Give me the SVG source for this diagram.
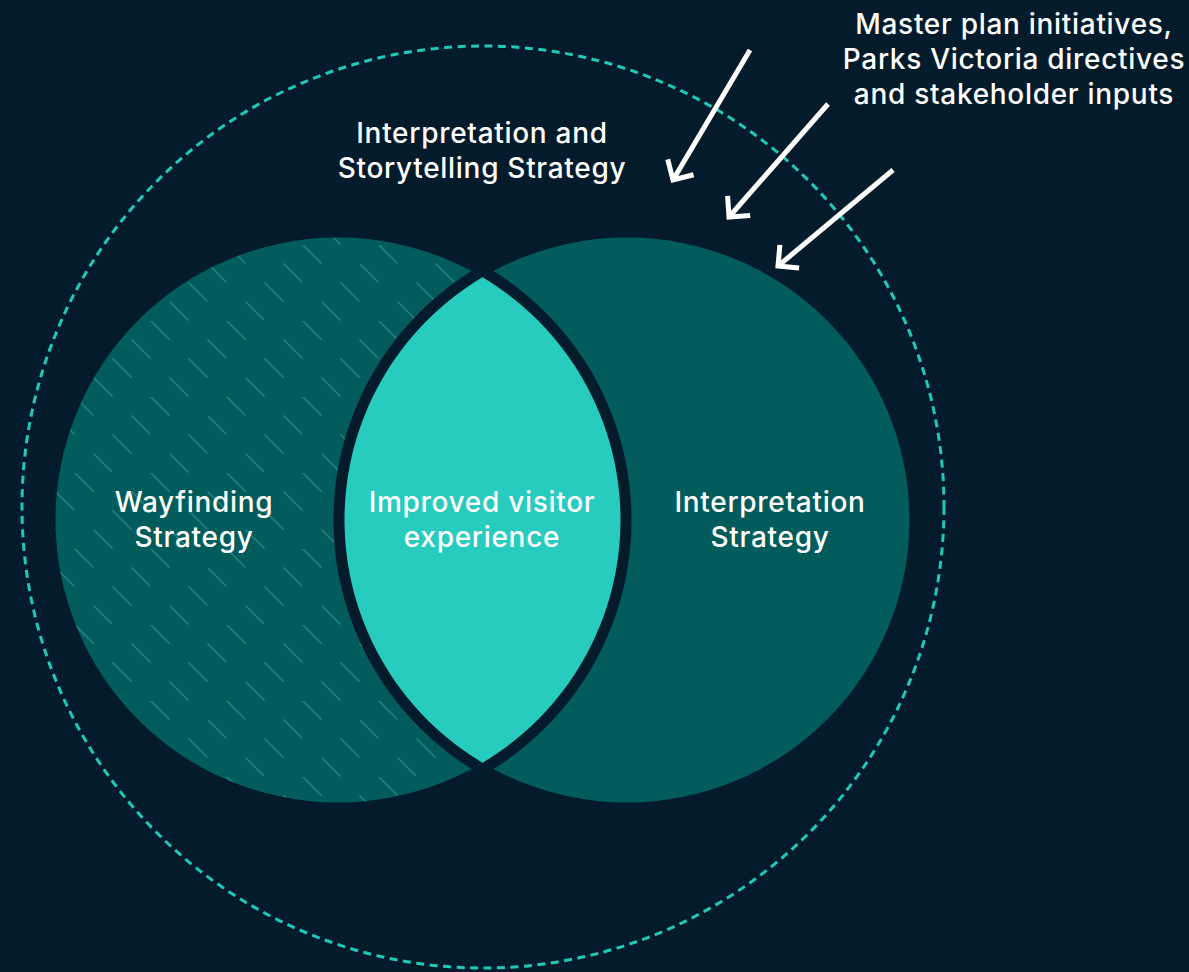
<svg xmlns="http://www.w3.org/2000/svg" width="1189" height="972" viewBox="0 0 1189 972">
  <defs>
    <style>
      .label { font-family: Inter, "Noto Sans", "Liberation Sans", sans-serif; font-size: 28px; letter-spacing: 0.7px; fill: #ffffff; text-anchor: middle; font-weight: 500; }
      .circle-fill { fill: #015c5b; }
      .edge { fill: none; stroke: #041b2b; stroke-width: 11; }
      .arrow { fill: none; stroke: #ffffff; stroke-width: 5; marker-end: url(#chevron); }
    </style>
    <!-- staggered dashed diagonal texture for the wayfinding circle -->
    <pattern id="hatch" patternUnits="userSpaceOnUse" x="303" y="245" width="76" height="76">
      <g stroke="#1f807c" stroke-width="1.7" stroke-linecap="round">
        <line x1="0" y1="0" x2="18" y2="18"/>
        <line x1="57" y1="19" x2="75" y2="37"/>
        <line x1="38" y1="38" x2="56" y2="56"/>
        <line x1="19" y1="57" x2="37" y2="75"/>
        <line x1="76" y1="0" x2="94" y2="18"/>
        <line x1="-19" y1="19" x2="-1" y2="37"/>
        <line x1="-38" y1="38" x2="-20" y2="56"/>
        <line x1="-57" y1="57" x2="-39" y2="75"/>
        <line x1="57" y1="-57" x2="75" y2="-39"/>
        <line x1="38" y1="-38" x2="56" y2="-20"/>
        <line x1="19" y1="-19" x2="37" y2="-1"/>
      </g>
    </pattern>
    <clipPath id="clip-left"><circle cx="338" cy="520" r="282.5"/></clipPath>
    <clipPath id="clip-right"><circle cx="627" cy="520" r="282.5"/></clipPath>
    <marker id="chevron" markerUnits="userSpaceOnUse" viewBox="-30 -30 60 60" markerWidth="60" markerHeight="60" refX="0" refY="0" orient="auto">
      <path d="M -15 -15 L 0 0 L -15 15" fill="none" stroke="#ffffff" stroke-width="5"/>
    </marker>
  </defs>

  <rect width="1189" height="972" fill="#041b2b"/>

  <!-- outer boundary: interpretation and storytelling strategy -->
  <g id="storytelling-strategy">
    <circle cx="483" cy="507" r="461" fill="none" stroke="#20c8ba" stroke-width="3" stroke-dasharray="8 5.5"/>
    <text class="label" x="482" y="143">Interpretation and</text>
    <text class="label" x="482" y="178">Storytelling Strategy</text>
  </g>

  <g id="wayfinding-strategy">
    <circle class="circle-fill" cx="338" cy="520" r="282.5"/>
    <circle cx="338" cy="520" r="282.5" fill="url(#hatch)"/>
    <text class="label" x="194" y="512">Wayfinding</text>
    <text class="label" x="194" y="547">Strategy</text>
  </g>

  <g id="interpretation-strategy">
    <circle class="circle-fill" cx="627" cy="520" r="282.5"/>
    <text class="label" x="770" y="512">Interpretation</text>
    <text class="label" x="770" y="547">Strategy</text>
  </g>

  <g id="improved-visitor-experience">
    <!-- dark ring just outside the lens, on both sides -->
    <circle class="edge" cx="627" cy="520" r="288" clip-path="url(#clip-left)"/>
    <circle class="edge" cx="338" cy="520" r="288" clip-path="url(#clip-right)"/>
    <path d="M 482.5 277.3 A 282.5 282.5 0 0 1 482.5 762.7 A 282.5 282.5 0 0 1 482.5 277.3 Z" fill="#27ccbf"/>
    <text class="label" x="482" y="512">Improved visitor</text>
    <text class="label" x="482" y="547">experience</text>
  </g>

  <g id="external-inputs">
    <text class="label" x="1014" y="34">Master plan initiatives,</text>
    <text class="label" x="1014" y="69">Parks Victoria directives</text>
    <text class="label" x="1014" y="104">and stakeholder inputs</text>
  </g>

  <g id="connectors">
    <line class="arrow" x1="750" y1="50" x2="673" y2="180"/>
    <line class="arrow" x1="828" y1="104" x2="729" y2="217"/>
    <line class="arrow" x1="893" y1="170" x2="778" y2="266"/>
  </g>
</svg>
